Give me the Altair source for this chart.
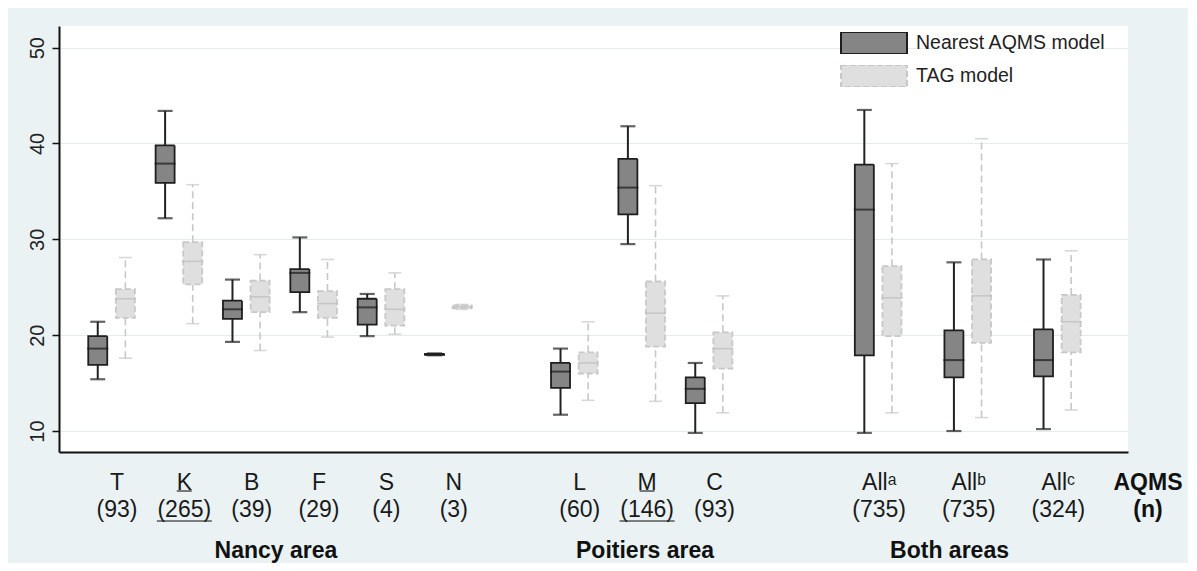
import altair as alt
import pandas as pd

# ---------------- data ----------------
stations = ["T", "K", "B", "F", "S", "N", "L", "M", "C", "Allᵃ", "Allᵇ", "Allᶜ"]
counts = ["(93)", "(265)", "(39)", "(29)", "(4)", "(3)", "(60)", "(146)", "(93)", "(735)", "(735)", "(324)"]
areas = ["Nancy area"] * 6 + ["Poitiers area"] * 3 + ["Both areas"] * 3
underlined = [False, True, False, False, False, False, False, True, False, False, False, False]
models = ["Nearest AQMS model", "TAG model"]

# Nearest AQMS model: lower whisker, Q1, median, Q3, upper whisker
aqms_lower = [15.4, 32.2, 19.3, 22.4, 19.9, 17.9, 11.7, 29.5, 9.8, 9.8, 10.0, 10.2]
aqms_q1 = [16.9, 35.9, 21.7, 24.5, 21.1, 17.95, 14.5, 32.6, 12.9, 17.9, 15.6, 15.7]
aqms_med = [18.6, 37.9, 22.7, 26.5, 22.9, 18.0, 16.2, 35.4, 14.4, 33.1, 17.4, 17.4]
aqms_q3 = [19.9, 39.8, 23.6, 26.9, 23.8, 18.05, 17.1, 38.4, 15.6, 37.8, 20.5, 20.6]
aqms_upper = [21.4, 43.4, 25.8, 30.2, 24.3, 18.1, 18.6, 41.8, 17.1, 43.5, 27.6, 27.9]

# TAG model
tag_lower = [17.6, 21.2, 18.4, 19.8, 20.1, 22.7, 13.2, 13.1, 11.9, 11.9, 11.4, 12.2]
tag_q1 = [21.8, 25.3, 22.4, 21.8, 21.0, 22.8, 16.0, 18.8, 16.5, 19.9, 19.2, 18.2]
tag_med = [23.8, 27.7, 24.0, 23.3, 22.7, 22.95, 17.1, 22.3, 18.6, 23.9, 24.1, 21.4]
tag_q3 = [24.8, 29.7, 25.7, 24.6, 24.8, 23.1, 18.2, 25.6, 20.3, 27.2, 27.9, 24.2]
tag_upper = [28.1, 35.7, 28.4, 27.9, 26.5, 23.2, 21.4, 35.6, 24.1, 37.9, 40.5, 28.8]

# ---------------- layout (slot positions, not data) ----------------
GROUP_START = {"Nancy area": 0.0, "Poitiers area": 6.87, "Both areas": 11.38}
GROUP_STEP = {"Nancy area": 1.0, "Poitiers area": 1.0, "Both areas": 1.33}
GROUP_LABEL_SHIFT = {"Nancy area": 0.08, "Poitiers area": 0.08, "Both areas": 0.015}
GROUP_TITLE_POS = {"Nancy area": 2.44, "Poitiers area": 7.92, "Both areas": 12.44}
MODEL_OFFSET = {"Nearest AQMS model": -0.205, "TAG model": 0.205}

pos = []
seen = {}
for a in areas:
    i = seen.get(a, 0)
    pos.append(GROUP_START[a] + i * GROUP_STEP[a])
    seen[a] = i + 1

rows = []
for k, s in enumerate(stations):
    for m, (lo, q1, md, q3, up) in zip(models, [
        (aqms_lower, aqms_q1, aqms_med, aqms_q3, aqms_upper),
        (tag_lower, tag_q1, tag_med, tag_q3, tag_upper),
    ]):
        rows.append(dict(station=s, model=m, xpos=pos[k] + MODEL_OFFSET[m],
                         lower=lo[k], q1=q1[k], median=md[k], q3=q3[k], upper=up[k]))
df = pd.DataFrame(rows)

labels = pd.DataFrame(dict(station=stations, count=counts, area=areas, underline=underlined,
                           lpos=[p + GROUP_LABEL_SHIFT[a] for p, a in zip(pos, areas)]))
groups = pd.DataFrame(dict(area=list(GROUP_TITLE_POS.keys()), gpos=list(GROUP_TITLE_POS.values())))
rowhead = pd.DataFrame(dict(t=["AQMS", "(n)"], yy=[464, 491]))

FONT = "Liberation Sans"
xscale = alt.Scale(domain=[-0.706, 15.015], nice=False, zero=False)
yscale = alt.Scale(domain=[7.81, 52.26], nice=False, zero=False)
xaxis = alt.Axis(labels=False, ticks=False, grid=False, title=None,
                 domainColor="#111111", domainWidth=2)
yaxis = alt.Axis(values=[10, 20, 30, 40, 50], labelAngle=270, labelFont=FONT,
                 labelFontSize=20, labelColor="#222222", labelPadding=5,
                 tickSize=7, tickColor="#111111", tickWidth=1.5,
                 domainColor="#111111", domainWidth=2, grid=True,
                 gridColor="#E3EDEF", gridWidth=1.2, title=None)


def X(field="xpos"):
    return alt.X(f"{field}:Q", scale=xscale, axis=xaxis)


def Y(field):
    return alt.Y(f"{field}:Q", scale=yscale, axis=yaxis)


base = alt.Chart(df)
dark = base.transform_filter(alt.datum.model == models[0])
light = base.transform_filter(alt.datum.model == models[1])

layers = []
# whiskers
for src, kw in [(dark, dict(color="#222222", strokeWidth=2)),
                (light, dict(color="#C8C8C8", strokeWidth=1.6, strokeDash=[7, 4]))]:
    layers.append(src.mark_rule(**kw).encode(x=X(), y=Y("lower"), y2="q1:Q"))
    layers.append(src.mark_rule(**kw).encode(x=X(), y=Y("q3"), y2="upper:Q"))

# boxes (with legend)
leg = alt.Legend(title=None, orient="none", legendX=781, legendY=6,
                 symbolType="M-1,-0.3333H1V0.3333H-1Z", symbolSize=4356,
                 clipHeight=22, rowPadding=11, labelFont=FONT, labelFontSize=19.5,
                 labelColor="#222222", labelOffset=8, symbolStrokeWidth=2, labelLimit=0)
layers.append(base.mark_bar(size=19, strokeWidth=1.8).encode(
    x=X(), y=Y("q1"), y2="q3:Q",
    fill=alt.Fill("model:N", scale=alt.Scale(domain=models, range=["#858585", "#DFDFDF"]), legend=leg),
    stroke=alt.Stroke("model:N", scale=alt.Scale(domain=models, range=["#1E1E1E", "#C8C8C8"]), legend=leg),
    strokeDash=alt.StrokeDash("model:N", scale=alt.Scale(domain=models, range=[[1, 0], [6, 3]]), legend=leg),
))

# medians
layers.append(dark.mark_tick(orient="horizontal", size=21, thickness=2, color="#1A1A1A").encode(x=X(), y=Y("median")))
layers.append(light.mark_tick(orient="horizontal", size=21, thickness=1.5, color="#BBBBBB").encode(x=X(), y=Y("median")))

# caps
for fld in ["lower", "upper"]:
    layers.append(dark.mark_tick(orient="horizontal", size=15, thickness=2.2, color="#222222").encode(x=X(), y=Y(fld)))
    layers.append(light.mark_tick(orient="horizontal", size=13, thickness=1.6, color="#C8C8C8").encode(x=X(), y=Y(fld)))

# category labels below the axis
lab = alt.Chart(labels)
txt = dict(font=FONT, fontSize=23, color="#1A1A1A", align="center", baseline="alphabetic")
layers.append(lab.mark_text(**txt).encode(x=X("lpos"), y=alt.value(464), text="station:N"))
layers.append(lab.mark_text(**txt).encode(x=X("lpos"), y=alt.value(491), text="count:N"))
ul = lab.transform_filter(alt.datum.underline == True)
layers.append(ul.mark_tick(orient="horizontal", size=15, thickness=1.6, color="#1A1A1A").encode(x=X("lpos"), y=alt.value(465)))
layers.append(ul.mark_tick(orient="horizontal", size=55, thickness=1.6, color="#1A1A1A").encode(x=X("lpos"), y=alt.value(495)))

# group titles
layers.append(alt.Chart(groups).mark_text(font=FONT, fontSize=23, fontWeight="bold", color="#111111",
                                          align="center", baseline="alphabetic").encode(
    x=X("gpos"), y=alt.value(532), text="area:N"))
# row header
layers.append(alt.Chart(rowhead).mark_text(font=FONT, fontSize=23, fontWeight="bold", color="#111111",
                                           align="center", baseline="alphabetic").encode(
    x=alt.value(1089), y=alt.Y("yy:Q", scale=None), text="t:N"))

chart = alt.layer(*layers).properties(
    width=1069, height=426,
    padding={"left": 51, "top": 18, "right": 60, "bottom": 111},
    autosize=alt.AutoSizeParams(type="none"),
    background="#EAF2F3",
).configure_view(stroke=None, fill="white")

chart.save("out.html", embed_options={"renderer": "svg", "actions": False})
